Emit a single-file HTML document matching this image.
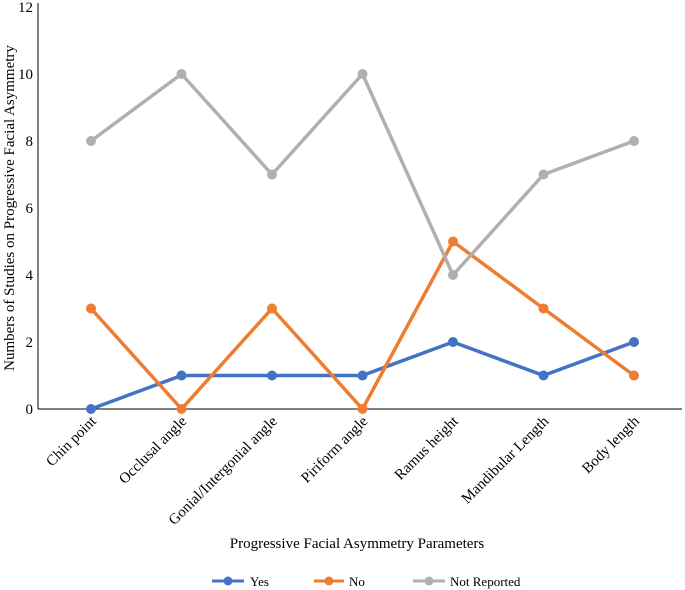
<!DOCTYPE html>
<html><head><meta charset="utf-8"><style>
body{margin:0;background:#fff;}
svg{display:block;font-family:"Liberation Serif",serif;}
</style></head><body>
<svg width="685" height="590">
<g id="axes"></g><g id="series"></g>
<text x="357" y="548" font-size="15" text-anchor="middle">Progressive Facial Asymmetry Parameters</text>
<text transform="translate(14,208) rotate(-90)" font-size="15" text-anchor="middle">Numbers of Studies  on Progressive Facial Asymmetry</text>
<g font-size="13">
<g><line x1="212" y1="581" x2="244" y2="581" stroke="#4472C4" stroke-width="3"/><circle cx="228" cy="581" r="4.5" fill="#4472C4"/><text x="250" y="586">Yes</text></g>
<g><line x1="314" y1="581" x2="344" y2="581" stroke="#ED7D31" stroke-width="3"/><circle cx="329" cy="581" r="4.5" fill="#ED7D31"/><text x="349" y="586">No</text></g>
<g><line x1="413" y1="581" x2="445" y2="581" stroke="#B0B0B0" stroke-width="3"/><circle cx="429" cy="581" r="4.5" fill="#B0B0B0"/><text x="450" y="586">Not Reported</text></g>
</g>
</svg>
<script>
const categories=["Chin point","Occlusal angle","Gonial/Intergonial angle","Piriform angle","Ramus height","Mandibular Length","Body length"];
const yesValues=[0,1,1,1,2,1,2];
const noValues=[3,0,3,0,5,3,1];
const notReportedValues=[8,10,7,10,4,7,8];
const yTicks=[0,2,4,6,8,10,12];
const NS="http://www.w3.org/2000/svg";
const x=i=>91+90.5*i;
const y=v=>409-v*33.5;
function mk(tag,attrs,parent){const e=document.createElementNS(NS,tag);for(const k in attrs)e.setAttribute(k,attrs[k]);parent.appendChild(e);return e;}
const axes=document.getElementById('axes');
let yl=mk('line',{x1:38,y1:3,x2:38,y2:409,stroke:'#000','stroke-width':1},axes);


let xl=mk('line',{x1:38,y1:409,x2:682,y2:409,stroke:'#000','stroke-width':1},axes);


yTicks.forEach(t=>{const e=mk('text',{x:33,y:y(t)+5,'font-size':15,'text-anchor':'end'},axes);e.textContent=t;

});
categories.forEach((c,i)=>{const e=mk('text',{transform:`translate(${x(i)+6},${422}) rotate(-45)`,'font-size':15,'text-anchor':'end'},axes);e.textContent=c;

});
const ser=document.getElementById('series');
[[yesValues,'#4472C4','yes'],[noValues,'#ED7D31','no'],[notReportedValues,'#B0B0B0','not-reported']].forEach(([vals,col,nm])=>{
 const g=mk('g',{},ser);
 
 
 const p=mk('polyline',{points:vals.map((v,i)=>x(i)+','+y(v)).join(' '),fill:'none',stroke:col,'stroke-width':3.5,'stroke-linejoin':'round'},g);
 
 
 vals.forEach((v,i)=>{const c=mk('circle',{cx:x(i),cy:y(v),r:5,fill:col},g);
 
 });
});
</script>
</body></html>
